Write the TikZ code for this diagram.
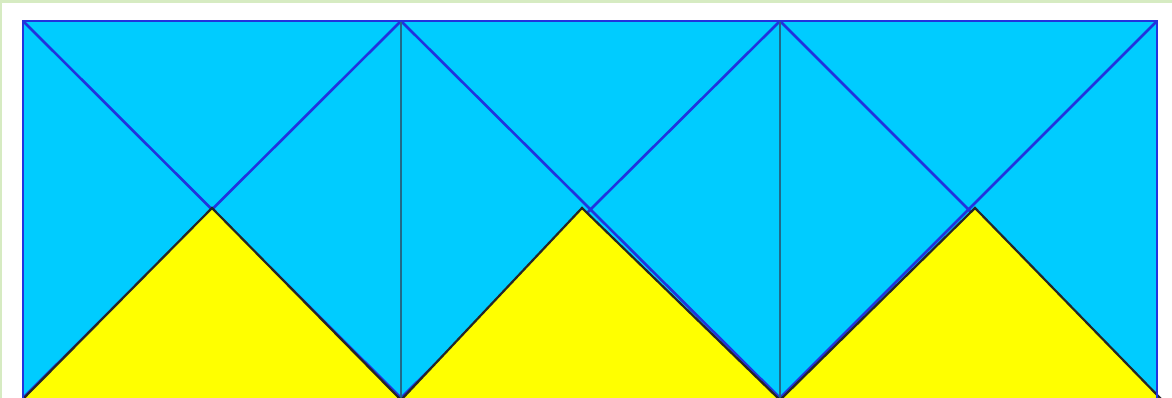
\documentclass[tikz,border=0pt]{standalone}
\definecolor{skyfill}{HTML}{00CCFF}
\definecolor{diagblue}{HTML}{2233DD}
\definecolor{tealline}{HTML}{1F6A8A}
\definecolor{sunyellow}{HTML}{FFFF00}
\definecolor{paleframe}{HTML}{D6EBC2}
\tikzset{
  diagline/.style={draw=diagblue, line width=2.6pt},
  divline/.style={draw=tealline, line width=1.6pt},
  tri/.style={fill=sunyellow, draw=black!85, line width=2.2pt, line join=miter},
}
\begin{document}
\begin{tikzpicture}[x=1pt,y=1pt]
\useasboundingbox (0,0) rectangle (1172,398);
\begin{scope}
\clip (0,0) rectangle (1172,398);
\fill[white] (0,0) rectangle (1172,398);
\fill[paleframe] (0,395) rectangle (1172,398);
\fill[paleframe] (0,0) rectangle (2,398);
% cyan panel
\fill[skyfill] (23,-5) rectangle (1157,377);
% diagonals
\coordinate (a0) at (23,377); \coordinate (a1) at (401,377);
\coordinate (a2) at (780,377); \coordinate (a3) at (1157,377);
\coordinate (b0) at (23,0); \coordinate (b1) at (401,0);
\coordinate (b2) at (780,0); \coordinate (b3) at (1157,0);
\draw[diagline] (a0) -- (b1) (a1) -- (b0);
\draw[diagline] (a1) -- (b2) (a2) -- (b1);
\draw[diagline] (a2) -- (b3) (a3) -- (b2);
\draw[divline] (a1) -- (b1) (a2) -- (b2);
% yellow triangles
\draw[tri] (22,-2) -- (212,190) -- (401,-2) -- cycle;
\draw[tri] (401,-2) -- (582,190) -- (780,-2) -- cycle;
\draw[tri] (780,-2) -- (975,190) -- (1162,-2) -- cycle;
% outer border
\draw[diagline, line join=miter] (23,-5) -- (a0) -- (a3) -- (1157,-5);
\end{scope}
\end{tikzpicture}
\end{document}
